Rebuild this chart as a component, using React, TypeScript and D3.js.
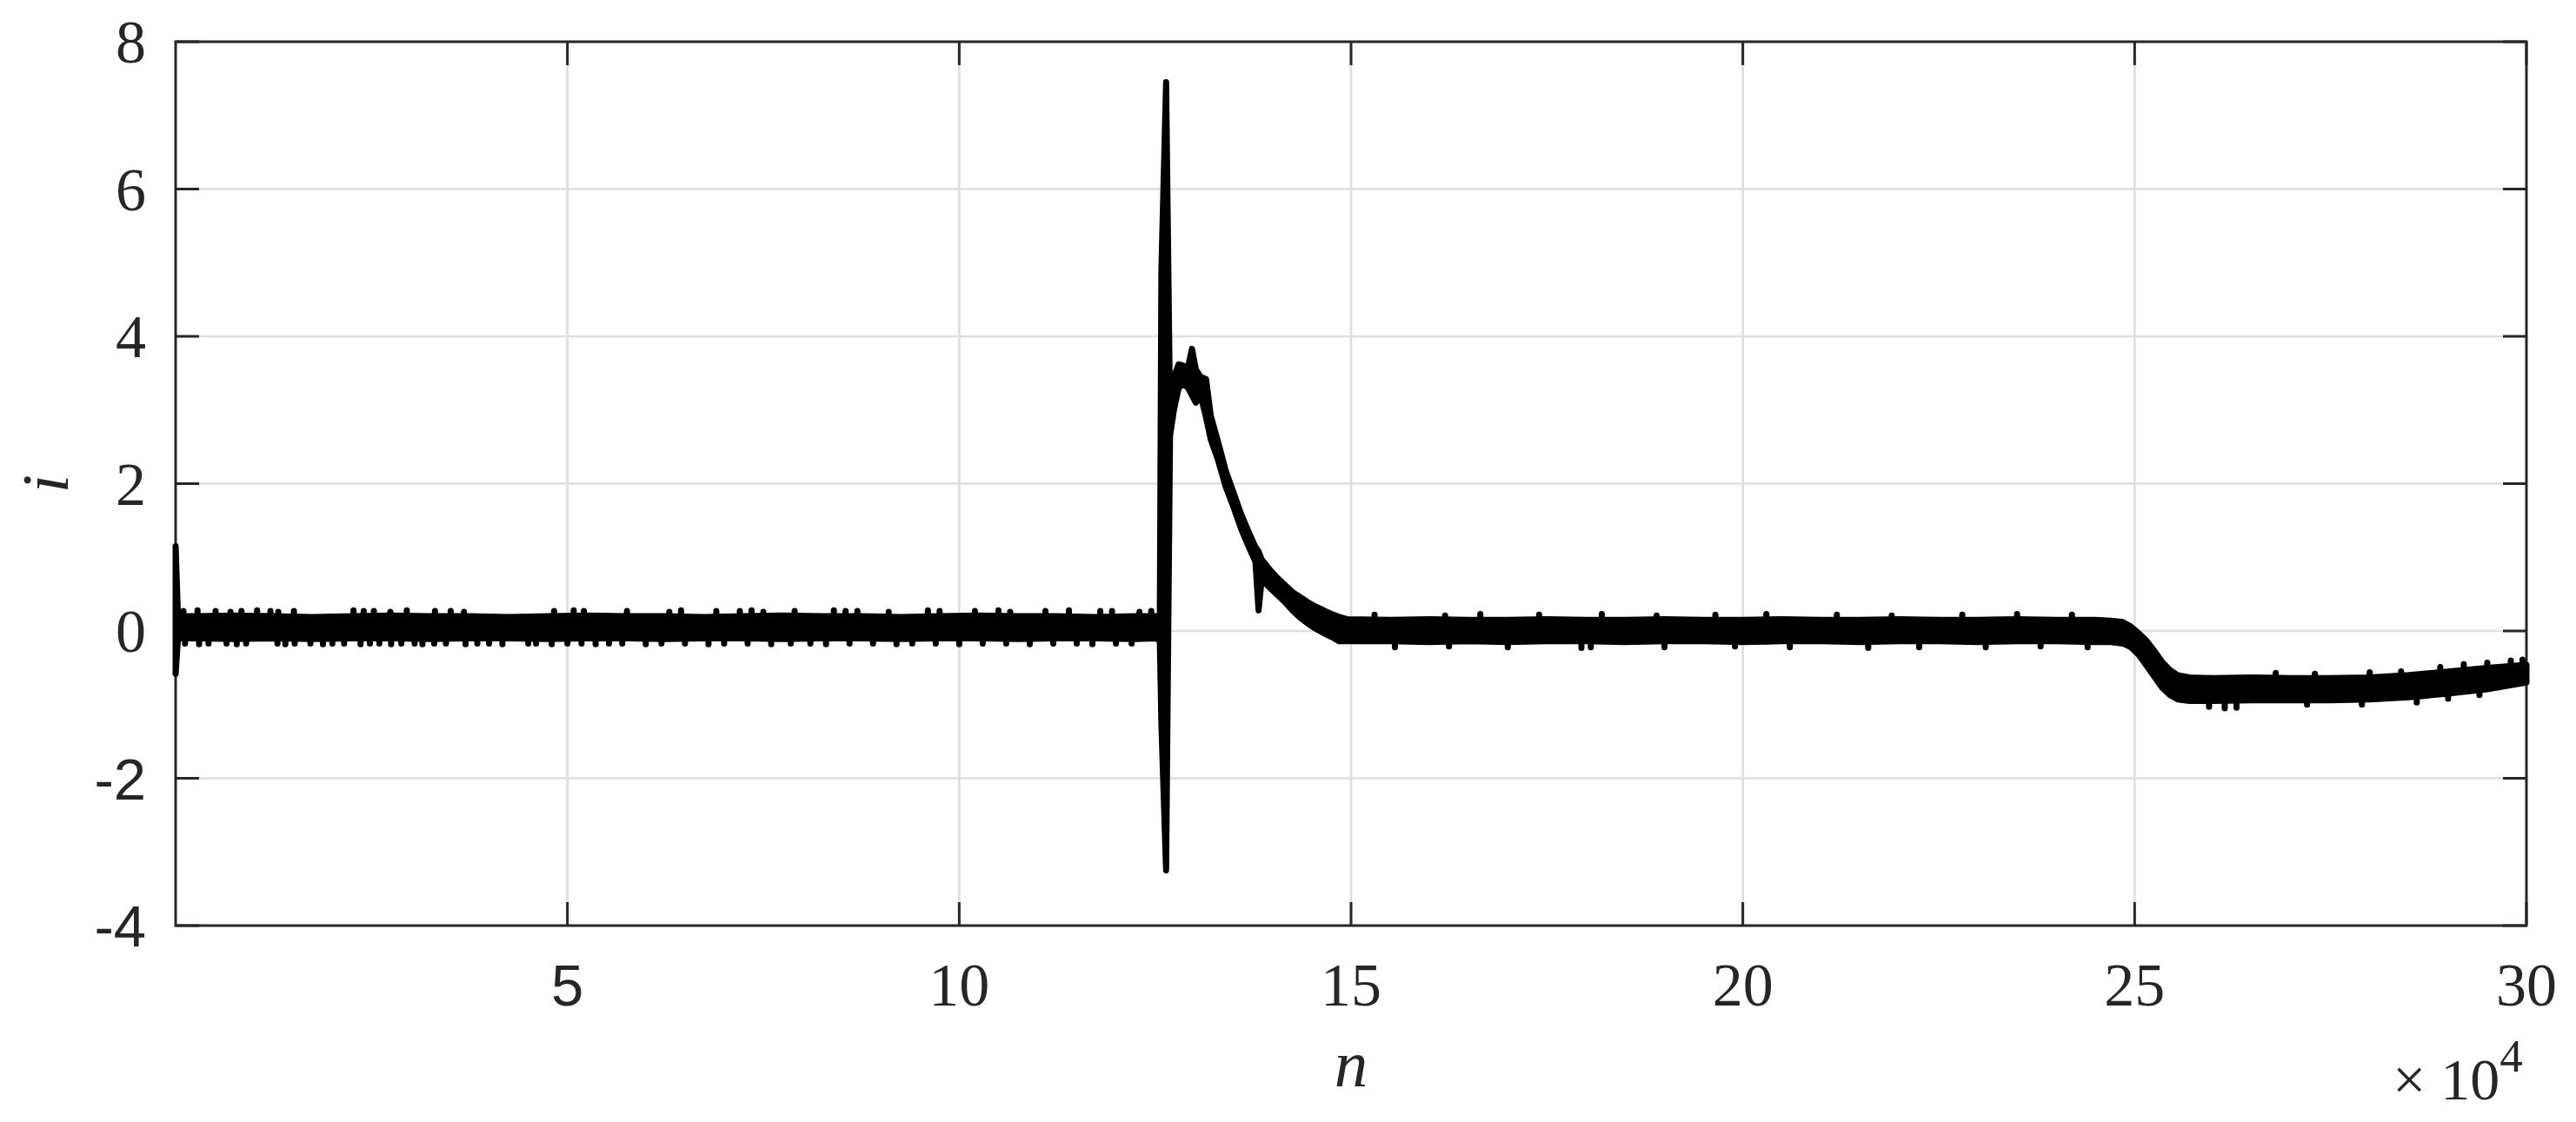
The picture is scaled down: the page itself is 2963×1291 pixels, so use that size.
import React from "react";
import * as d3 from "d3";

// x axis: sample index n in units of 10^4 ; y axis: current i
const nTicks = [5, 10, 15, 20, 25, 30];
const iTicks = [-4, -2, 0, 2, 4, 6, 8];
const sansLabels = ["5", "-2", "-4"];

// Envelope of the dense signal: [n (x10^4), upper i, lower i]
const startSpike: [number, number, number][] = [
  [0.0, 1.15, -0.58],
  [0.03, 0.2, -0.1],
];

const bandBefore: [number, number, number][] = [
  [0.25, 0.2, -0.1], [0.75, 0.21, -0.11], [1.25, 0.2, -0.1], [1.75, 0.19, -0.11],
  [2.25, 0.2, -0.1], [2.75, 0.21, -0.1], [3.25, 0.2, -0.11], [3.75, 0.2, -0.1],
  [4.25, 0.19, -0.1], [4.75, 0.2, -0.11], [5.25, 0.21, -0.1], [5.75, 0.2, -0.1],
  [6.25, 0.2, -0.11], [6.75, 0.19, -0.1], [7.25, 0.2, -0.1], [7.75, 0.21, -0.11],
  [8.25, 0.2, -0.1], [8.75, 0.2, -0.1], [9.25, 0.19, -0.11], [9.75, 0.2, -0.1],
  [10.25, 0.21, -0.1], [10.75, 0.2, -0.11], [11.25, 0.2, -0.1], [11.75, 0.19, -0.1],
  [12.25, 0.2, -0.11], [12.52, 0.2, -0.1], [12.56, 0.18, -0.14],
];

const transient: [number, number, number][] = [
  [12.58, 4.9, -1.26], [12.64, 7.45, -3.25], [12.69, 3.0, 2.65], [12.74, 3.45, 3.0],
  [12.8, 3.62, 3.3], [12.86, 3.6, 3.35], [12.92, 3.58, 3.3], [12.97, 3.83, 3.2],
  [13.02, 3.55, 3.1], [13.08, 3.45, 3.2], [13.15, 3.42, 2.9], [13.21, 2.92, 2.6],
  [13.3, 2.58, 2.33], [13.4, 2.18, 1.96], [13.5, 1.88, 1.68], [13.6, 1.58, 1.38],
  [13.7, 1.33, 1.13], [13.78, 1.14, 0.94], [13.82, 1.08, 0.28], [13.86, 0.97, 0.7],
  [13.95, 0.85, 0.6], [14.05, 0.73, 0.5], [14.15, 0.63, 0.4], [14.25, 0.53, 0.28],
  [14.35, 0.46, 0.18], [14.45, 0.39, 0.1], [14.55, 0.33, 0.03], [14.65, 0.28, -0.03],
  [14.75, 0.23, -0.08], [14.85, 0.19, -0.14], [14.95, 0.16, -0.14],
];

const bandAfter: [number, number, number][] = [
  [15.5, 0.15, -0.14], [16.0, 0.16, -0.15], [16.5, 0.15, -0.14], [17.0, 0.15, -0.15],
  [17.5, 0.16, -0.14], [18.0, 0.15, -0.14], [18.5, 0.15, -0.15], [19.0, 0.16, -0.14],
  [19.5, 0.15, -0.14], [20.0, 0.15, -0.15], [20.5, 0.16, -0.14], [21.0, 0.15, -0.14],
  [21.5, 0.15, -0.15], [22.0, 0.16, -0.14], [22.5, 0.15, -0.14], [23.0, 0.15, -0.15],
  [23.5, 0.16, -0.14], [24.0, 0.15, -0.14], [24.5, 0.15, -0.15], [24.7, 0.14, -0.15],
];

const stepDown: [number, number, number][] = [
  [24.85, 0.12, -0.17], [24.95, 0.06, -0.22], [25.05, -0.03, -0.32], [25.15, -0.13, -0.47],
  [25.25, -0.27, -0.62], [25.35, -0.42, -0.77], [25.45, -0.53, -0.87], [25.55, -0.6, -0.93],
  [25.7, -0.63, -0.95],
];

const tailBand: [number, number, number][] = [
  [26.0, -0.64, -0.95], [26.5, -0.63, -0.94], [27.0, -0.64, -0.94], [27.5, -0.64, -0.94],
  [28.0, -0.63, -0.93], [28.5, -0.6, -0.9], [29.0, -0.55, -0.85], [29.5, -0.5, -0.79],
  [30.0, -0.46, -0.7],
];

// short noise excursions above / below the band: [n (x10^4), peak i]
const spikesUp: [number, number][] = [
  [0.1, 0.27], [0.28, 0.28], [0.51, 0.27], [0.7, 0.26], [0.84, 0.27], [1.04, 0.28],
  [1.21, 0.27], [1.31, 0.26], [1.51, 0.27], [2.27, 0.28], [2.4, 0.27], [2.53, 0.27],
  [2.74, 0.26], [2.95, 0.28], [3.31, 0.27], [3.51, 0.27], [3.68, 0.26], [4.83, 0.27],
  [5.08, 0.28], [5.21, 0.27], [5.76, 0.27], [6.3, 0.26], [6.45, 0.28], [6.9, 0.27],
  [7.2, 0.27], [7.35, 0.28], [7.5, 0.26], [7.9, 0.27], [8.4, 0.28], [8.55, 0.27],
  [8.7, 0.27], [9.1, 0.26], [9.6, 0.28], [9.75, 0.27], [10.2, 0.27], [10.5, 0.28],
  [10.65, 0.26], [11.1, 0.27], [11.4, 0.28], [11.8, 0.27], [11.95, 0.27], [12.3, 0.26],
  [12.45, 0.27],
  [15.3, 0.22], [16.2, 0.21], [16.65, 0.23], [17.4, 0.22], [18.2, 0.23], [18.9, 0.21],
  [19.65, 0.22], [20.3, 0.23], [21.2, 0.22], [21.9, 0.21], [22.8, 0.22], [23.5, 0.23],
  [24.2, 0.22],
  [26.8, -0.57], [27.3, -0.58], [28.0, -0.56], [28.4, -0.55], [28.9, -0.49],
  [29.2, -0.45], [29.5, -0.43], [29.8, -0.4], [29.95, -0.39],
];

const spikesDown: [number, number][] = [
  [0.12, -0.17], [0.3, -0.18], [0.42, -0.17], [0.65, -0.17], [0.78, -0.18], [0.9, -0.17],
  [1.3, -0.17], [1.4, -0.18], [1.52, -0.17], [1.72, -0.17], [1.88, -0.18], [2.0, -0.17],
  [2.15, -0.17], [2.36, -0.18], [2.48, -0.17], [2.6, -0.17], [2.75, -0.18], [2.88, -0.17],
  [3.05, -0.17], [3.15, -0.18], [3.3, -0.17], [3.45, -0.17], [3.7, -0.18], [3.85, -0.17],
  [4.0, -0.17], [4.17, -0.18], [4.5, -0.17], [4.6, -0.17], [4.8, -0.18], [5.0, -0.17],
  [5.18, -0.17], [5.36, -0.18], [5.53, -0.17], [5.7, -0.17], [6.0, -0.18], [6.2, -0.17],
  [6.5, -0.17], [6.8, -0.18], [7.0, -0.17], [7.3, -0.17], [7.6, -0.18], [7.85, -0.17],
  [8.1, -0.17], [8.3, -0.18], [8.6, -0.17], [8.9, -0.17], [9.2, -0.18], [9.4, -0.17],
  [9.7, -0.17], [10.0, -0.18], [10.3, -0.17], [10.6, -0.17], [10.9, -0.18], [11.2, -0.17],
  [11.5, -0.17], [11.7, -0.18], [12.0, -0.17], [12.2, -0.17],
  [15.56, -0.22], [16.25, -0.21], [17.0, -0.22], [17.94, -0.23], [18.06, -0.22],
  [19.0, -0.22], [19.9, -0.21], [20.6, -0.22], [21.6, -0.23], [22.25, -0.22],
  [23.1, -0.22], [23.8, -0.21], [24.4, -0.22],
  [25.95, -1.03], [26.15, -1.05], [26.3, -1.04], [27.2, -1.0], [27.9, -1.0],
  [28.6, -0.97], [29.0, -0.92], [29.4, -0.87],
];

const W = 2963;
const H = 1291;
const left = 202, right = 2906, top = 48, bottom = 1065;
const axisColor = "#262626";
const gridColor = "#dedede";
const serif = "'Liberation Serif', 'Times New Roman', serif";
const sans = "'Liberation Sans', Arial, sans-serif";

export default function App() {
  const x = d3.scaleLinear().domain([0, 30]).range([left, right]);
  const y = d3.scaleLinear().domain([-4, 8]).range([bottom, top]);
  const data = [...startSpike, ...bandBefore, ...transient, ...bandAfter, ...stepDown, ...tailBand];
  const area = d3
    .area<[number, number, number]>()
    .x((d) => x(d[0]))
    .y0((d) => y(d[2]))
    .y1((d) => y(d[1]));
  const tickLen = 27;
  const lw = 7;

  return (
    <svg width={W} height={H} style={{ position: "absolute", left: 0, top: 0, background: "#fff" }}>
      <rect x={0} y={0} width={W} height={H} fill="#fff" />
      {/* grid */}
      {nTicks.filter((t) => t < 30).map((t) => (
        <line key={"gx" + t} x1={x(t)} x2={x(t)} y1={top} y2={bottom} stroke={gridColor} strokeWidth={2.6} />
      ))}
      {iTicks.filter((t) => t > -4 && t < 8).map((t) => (
        <line key={"gy" + t} x1={left} x2={right} y1={y(t)} y2={y(t)} stroke={gridColor} strokeWidth={2.6} />
      ))}
      {/* ticks */}
      {nTicks.map((t) => (
        <g key={"tx" + t}>
          <line x1={x(t)} x2={x(t)} y1={bottom} y2={bottom - tickLen} stroke={axisColor} strokeWidth={3} />
          <line x1={x(t)} x2={x(t)} y1={top} y2={top + tickLen} stroke={axisColor} strokeWidth={3} />
        </g>
      ))}
      {iTicks.map((t) => (
        <g key={"ty" + t}>
          <line x1={left} x2={left + tickLen} y1={y(t)} y2={y(t)} stroke={axisColor} strokeWidth={3} />
          <line x1={right} x2={right - tickLen} y1={y(t)} y2={y(t)} stroke={axisColor} strokeWidth={3} />
        </g>
      ))}
      {/* box */}
      <rect x={left} y={top} width={right - left} height={bottom - top} fill="none" stroke={axisColor} strokeWidth={3} />
      {/* signal */}
      <path d={area(data) || ""} fill="#000" stroke="#000" strokeWidth={lw} strokeLinejoin="round" strokeLinecap="round" />
      {spikesUp.map(([n, v], k) => (
        <line key={"su" + k} x1={x(n)} x2={x(n)} y1={y(v)} y2={y(v) + 12} stroke="#000" strokeWidth={lw} strokeLinecap="round" />
      ))}
      {spikesDown.map(([n, v], k) => (
        <line key={"sd" + k} x1={x(n)} x2={x(n)} y1={y(v)} y2={y(v) - 12} stroke="#000" strokeWidth={lw} strokeLinecap="round" />
      ))}
      {/* y tick labels */}
      {iTicks.map((t) => {
        const s = String(t);
        const isSans = sansLabels.includes(s);
        return (
          <text
            key={"ly" + t}
            x={168}
            y={y(t) + 24}
            textAnchor="end"
            fontFamily={isSans ? sans : serif}
            fontSize={isSans ? 67 : 70}
            fill={axisColor}
          >
            {s}
          </text>
        );
      })}
      {/* x tick labels */}
      {nTicks.map((t) => {
        const s = String(t);
        const isSans = sansLabels.includes(s);
        return (
          <text
            key={"lx" + t}
            x={x(t)}
            y={1157}
            textAnchor="middle"
            fontFamily={isSans ? sans : serif}
            fontSize={isSans ? 67 : 70}
            fill={axisColor}
          >
            {s}
          </text>
        );
      })}
      {/* exponent */}
      <text x={2752} y={1265} fontFamily={serif} fontSize={68} fill={axisColor}>
        {"× 10"}
        <tspan dy={-32} fontSize={53}>4</tspan>
      </text>
      {/* axis labels */}
      <text x={1554} y={1250} textAnchor="middle" fontFamily={serif} fontStyle="italic" fontSize={77} fill={axisColor}>
        n
      </text>
      <text
        transform={`translate(78, ${(top + bottom) / 2}) rotate(-90)`}
        textAnchor="middle"
        fontFamily={serif}
        fontStyle="italic"
        fontSize={77}
        fill={axisColor}
      >
        i
      </text>
    </svg>
  );
}
